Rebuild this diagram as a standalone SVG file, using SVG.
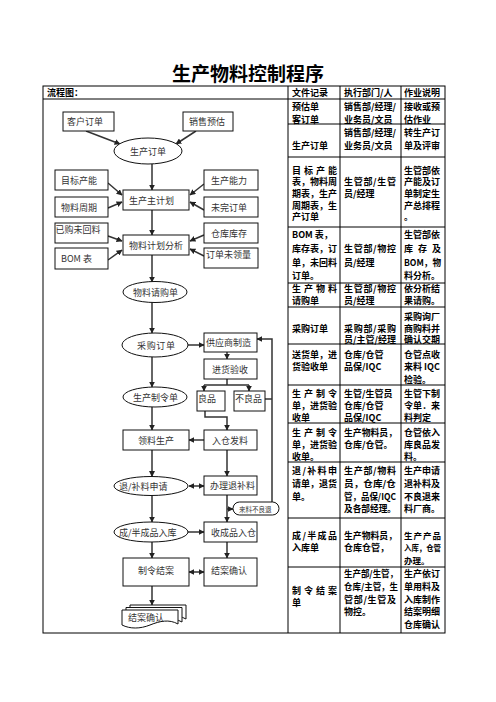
<svg xmlns="http://www.w3.org/2000/svg" width="496" height="702" viewBox="0 0 496 702">
<defs>
<style>
.bx{fill:#fff;stroke:#111;stroke-width:1}
.t{font-family:"Noto Sans CJK SC","Liberation Sans",sans-serif;font-size:9px;fill:#333}
.s{font-family:"Noto Sans CJK SC","Liberation Sans",sans-serif;font-size:6.5px;fill:#333}
.tb{font-family:"Noto Sans CJK SC","Liberation Sans",sans-serif;font-size:9px;font-weight:bold;fill:#000}
.ti{font-family:"Noto Sans CJK SC","Liberation Sans",sans-serif;font-size:19px;font-weight:bold;fill:#000}
.ln{stroke:#000;stroke-width:1;fill:none}
.c{stroke:#333;stroke-width:1.5;fill:none}
.a{marker-end:url(#ar)}
.d{marker-start:url(#ar);marker-end:url(#ar)}
</style>
<marker id="ar" viewBox="0 0 10 10" refX="9" refY="5" markerUnits="userSpaceOnUse" markerWidth="6" markerHeight="6" orient="auto-start-reverse"><path d="M0,0 L10,5 L0,10 z" fill="#222"/></marker>
</defs>
<rect width="496" height="702" fill="#fff"/>
<text class="ti" x="248" y="81" text-anchor="middle">生产物料控制程序</text>

<g id="table">
<rect class="ln" x="43" y="86" width="402" height="547" stroke-width="1.2"/>
<line class="ln" x1="43" y1="99" x2="445" y2="99"/>
<line class="ln" x1="288" y1="86" x2="288" y2="633"/>
<line class="ln" x1="340" y1="86" x2="340" y2="633"/>
<line class="ln" x1="401" y1="86" x2="401" y2="633"/>
<path class="ln" d="M288,124H445M288,157H445M288,227H445M288,283H445M288,307H445M288,344H445M288,385H445M288,423H445M288,462H445M288,518H445M288,567H445"/>
<text class="tb" x="47" y="96">流程图：</text>
<text class="tb" x="292" y="96">文件记录</text>
<text class="tb" x="344" y="96">执行部门/人</text>
<text class="tb" x="404" y="96">作业说明</text>
</g>

<g id="table-text" class="tb">
<text x="292" y="109.5">预估单</text><text x="292" y="122.5">客订单</text>
<text x="344" y="109.5">销售部/经理/</text><text x="344" y="122.5">业务员/文员</text>
<text x="404" y="109.5">接收或预</text><text x="404" y="122.5">估作业</text>

<text x="292" y="149">生产订单</text>
<text x="344" y="136">销售部/经理/</text><text x="344" y="149">业务员/文员</text>
<text x="404" y="136">转生产订</text><text x="404" y="149">单及评审</text>

<text x="292" y="173.5" textLength="45" lengthAdjust="spacing">目标产能</text>
<text x="292" y="185" textLength="45" lengthAdjust="spacingAndGlyphs">表，物料周</text>
<text x="292" y="197" textLength="45" lengthAdjust="spacingAndGlyphs">期表，生产</text>
<text x="292" y="208.5" textLength="45" lengthAdjust="spacingAndGlyphs">周期表，生</text>
<text x="292" y="220">产订单</text>
<text x="344" y="185" textLength="52" lengthAdjust="spacing">生管部/生管</text>
<text x="344" y="197">员/经理</text>
<text x="404" y="173.5">生管部依</text><text x="404" y="185">产能及订</text><text x="404" y="197">单制定生</text><text x="404" y="208.5">产总排程</text><text x="404" y="220">。</text>

<text x="292" y="238">BOM 表，</text>
<text x="292" y="251.5" textLength="45" lengthAdjust="spacingAndGlyphs">库存表，订</text>
<text x="292" y="266" textLength="45" lengthAdjust="spacingAndGlyphs">单，未回料</text>
<text x="292" y="279">订单。</text>
<text x="344" y="251.5" textLength="52" lengthAdjust="spacing">生管部/物控</text>
<text x="344" y="266">员/经理</text>
<text x="404" y="238">生管部依</text>
<text x="404" y="251.5" textLength="37" lengthAdjust="spacing">库存及</text>
<text x="404" y="266" textLength="37" lengthAdjust="spacingAndGlyphs">BOM，物</text>
<text x="404" y="279">料分析。</text>

<text x="292" y="291.5" textLength="45" lengthAdjust="spacing">生产物料</text>
<text x="292" y="303.5">请购单</text>
<text x="344" y="291.5" textLength="52" lengthAdjust="spacing">生管部/物控</text>
<text x="344" y="303.5">员/经理</text>
<text x="404" y="291.5">依分析结</text><text x="404" y="303.5">果请购。</text>

<text x="292" y="331.5">采购订单</text>
<text x="344" y="331.5" textLength="52" lengthAdjust="spacing">采购部/采购</text>
<text x="344" y="343">员/主管/经理</text>
<text x="404" y="319.5">采购询厂</text><text x="404" y="331.5">商购料并</text><text x="404" y="343">确认交期</text>

<text x="292" y="357.5" textLength="45" lengthAdjust="spacingAndGlyphs">送货单，进</text>
<text x="292" y="370">货验收单</text>
<text x="344" y="357.5">仓库/仓管</text><text x="344" y="370">品保/IQC</text>
<text x="404" y="357.5">仓管点收</text><text x="404" y="370">来料 IQC</text><text x="404" y="383">检验。</text>

<text x="292" y="396.5" textLength="45" lengthAdjust="spacing">生产制令</text>
<text x="292" y="409" textLength="45" lengthAdjust="spacingAndGlyphs">单，进货验</text>
<text x="292" y="421">收单</text>
<text x="344" y="396.5">生管/生管员</text><text x="344" y="409">仓库/仓管</text><text x="344" y="421">品保/IQC</text>
<text x="404" y="396.5">生管下制</text><text x="404" y="409">令单．来</text><text x="404" y="421">料判定</text>

<text x="292" y="435.5" textLength="45" lengthAdjust="spacing">生产制令</text>
<text x="292" y="448" textLength="45" lengthAdjust="spacingAndGlyphs">单，进货验</text>
<text x="292" y="460">收单。</text>
<text x="344" y="435.5" textLength="53" lengthAdjust="spacingAndGlyphs">生产物料员，</text>
<text x="344" y="448">仓库/仓管。</text>
<text x="404" y="435.5">仓管依入</text><text x="404" y="448">库良品发</text><text x="404" y="460">料。</text>

<text x="292" y="474" textLength="45" lengthAdjust="spacing">退/补料申</text>
<text x="292" y="486.5" textLength="45" lengthAdjust="spacingAndGlyphs">请单，退货</text>
<text x="292" y="499.5">单。</text>
<text x="344" y="474" textLength="52" lengthAdjust="spacing">生产部/物料</text>
<text x="344" y="486.5" textLength="52" lengthAdjust="spacingAndGlyphs">员，仓库/仓</text>
<text x="344" y="499.5" textLength="52" lengthAdjust="spacingAndGlyphs">管，品保/IQC</text>
<text x="344" y="512" textLength="52" lengthAdjust="spacingAndGlyphs">及各部经理。</text>
<text x="404" y="474">生产申请</text><text x="404" y="486.5">退补料及</text><text x="404" y="499.5">不良退来</text><text x="404" y="512">料厂商。</text>

<text x="292" y="538.5" textLength="45" lengthAdjust="spacing">成/半成品</text>
<text x="292" y="551">入库单</text>
<text x="344" y="538.5" textLength="53" lengthAdjust="spacingAndGlyphs">生产物料员，</text>
<text x="344" y="551">仓库仓管，</text>
<text x="404" y="538.5" font-size="8.5" textLength="37" lengthAdjust="spacing">生产产品</text>
<text x="404" y="551" font-size="8" textLength="37" lengthAdjust="spacingAndGlyphs">入库，仓管</text>
<text x="404" y="564" font-size="8.5">办理。</text>

<text x="292" y="593.5" textLength="45" lengthAdjust="spacing">制令结案</text>
<text x="292" y="605.5">单</text>
<text x="344" y="577" textLength="54" lengthAdjust="spacingAndGlyphs">生产部/生管，</text>
<text x="344" y="590" textLength="54" lengthAdjust="spacingAndGlyphs">仓库/主管，生</text>
<text x="344" y="602.5" textLength="52" lengthAdjust="spacing">管部/生管及</text>
<text x="344" y="615">物控。</text>
<text x="404" y="577">生产依订</text><text x="404" y="590">单用料及</text><text x="404" y="602.5">入库制作</text><text x="404" y="615">结案明细</text><text x="404" y="628">仓库确认</text>
</g>

<g id="connectors">
<line class="c a" x1="86" y1="131" x2="120" y2="144"/>
<line class="c a" x1="196" y1="131" x2="176" y2="144"/>
<line class="c a" x1="108" y1="183" x2="122" y2="195"/>
<line class="c a" x1="108" y1="208" x2="122" y2="202"/>
<line class="c a" x1="204" y1="184" x2="190" y2="195"/>
<line class="c a" x1="204" y1="210" x2="190" y2="202"/>
<line class="c a" x1="108" y1="236" x2="122" y2="241"/>
<line class="c a" x1="108" y1="260" x2="122" y2="250"/>
<line class="c a" x1="204" y1="235" x2="190" y2="241"/>
<line class="c a" x1="204" y1="256" x2="190" y2="249"/>
<line class="c a" x1="152" y1="164" x2="152" y2="190"/>
<line class="c a" x1="152" y1="210" x2="152" y2="235"/>
<line class="c a" x1="152" y1="255" x2="152" y2="282"/>
<line class="c a" x1="152" y1="302" x2="152" y2="333"/>
<line class="c a" x1="152" y1="357" x2="152" y2="387"/>
<line class="c a" x1="152" y1="407" x2="152" y2="430"/>
<line class="c a" x1="152" y1="450" x2="152" y2="476.5"/>
<line class="c a" x1="152" y1="495.5" x2="152" y2="522"/>
<line class="c a" x1="152" y1="542" x2="152" y2="558"/>
<line class="c a" x1="152" y1="586" x2="152" y2="605"/>
<line class="c a" x1="188" y1="345" x2="204" y2="345"/>
<line class="c a" x1="227" y1="352" x2="227" y2="359"/>
<path class="c" d="M227,379V385M204,385H249"/>
<line class="c a" x1="204" y1="385" x2="204" y2="391"/>
<line class="c a" x1="249" y1="385" x2="249" y2="391"/>
<path class="c" d="M265,399H272"/>
<path class="c a" d="M272,502V339H257"/>
<path class="c a" d="M205,411V417H227V430"/>
<line class="c a" x1="204" y1="440" x2="189" y2="440"/>
<line class="c a" x1="227" y1="450" x2="227" y2="476"/>
<line class="c d" x1="189" y1="486" x2="204" y2="486"/>
<line class="c a" x1="227" y1="495" x2="227" y2="522"/>
<line class="c a" x1="227" y1="509" x2="233" y2="509"/>
<line class="c a" x1="188" y1="532" x2="204" y2="532"/>
<line class="c a" x1="227" y1="542" x2="227" y2="558"/>
<line class="c d" x1="189" y1="572" x2="204" y2="572"/>
</g>

<g id="n-kehu"><rect class="bx" x="63" y="112" width="51" height="19"/><text class="t" x="67" y="125">客户订单</text></g>
<g id="n-xiaoshou"><rect class="bx" x="183" y="112" width="50" height="19"/><text class="t" x="189" y="125">销售预估</text></g>
<g id="n-scdd"><ellipse class="bx" cx="148" cy="151" rx="34" ry="13"/><text class="t" x="130" y="154.5">生产订单</text></g>
<g id="n-mbcn"><rect class="bx" x="55" y="170" width="53" height="20"/><text class="t" x="61" y="183.5">目标产能</text></g>
<g id="n-wlzq"><rect class="bx" x="55" y="197" width="53" height="20"/><text class="t" x="61" y="210.5">物料周期</text></g>
<g id="n-sczjh"><rect class="bx" x="123" y="190" width="66" height="20"/><text class="t" x="129" y="203.5">生产主计划</text></g>
<g id="n-scnl"><rect class="bx" x="204" y="170" width="54" height="20"/><text class="t" x="211" y="183.5">生产能力</text></g>
<g id="n-wwdd"><rect class="bx" x="204" y="197" width="54" height="20"/><text class="t" x="211" y="210.5">未完订单</text></g>
<g id="n-ygwhl"><rect class="bx" x="55" y="223" width="53" height="20"/><text class="t" x="55.5" y="233">已购未回料</text></g>
<g id="n-bom"><rect class="bx" x="55" y="248" width="53" height="21"/><text class="t" x="61" y="261.5">BOM 表</text></g>
<g id="n-wljhfx"><rect class="bx" x="123" y="235" width="66" height="20"/><text class="t" x="129" y="248.5">物料计划分析</text></g>
<g id="n-ckkc"><rect class="bx" x="204" y="223" width="54" height="20"/><text class="t" x="211" y="236.5">仓库库存</text></g>
<g id="n-ddwll"><rect class="bx" x="204" y="248" width="54" height="20"/><text class="t" x="206" y="258">订单未领量</text></g>
<g id="n-wlqgd"><ellipse class="bx" cx="155" cy="292" rx="32" ry="10.5"/><text class="t" x="133" y="295.5">物料请购单</text></g>
<g id="n-cgdd"><ellipse class="bx" cx="155" cy="345" rx="33" ry="12"/><text class="t" x="137" y="348.5" textLength="38" lengthAdjust="spacing">采购订单</text></g>
<g id="n-gyszz"><rect class="bx" x="204" y="333" width="53" height="19"/><text class="t" x="206" y="346">供应商制造</text></g>
<g id="n-jhys"><rect class="bx" x="204" y="359" width="53" height="20"/><text class="t" x="212" y="372.5">进货验收</text></g>
<g id="n-lp"><rect class="bx" x="197" y="391" width="28" height="20"/><text class="t" x="198" y="402">良品</text></g>
<g id="n-blp"><rect class="bx" x="234" y="391" width="31" height="20"/><text class="t" x="235" y="402">不良品</text></g>
<g id="n-sczld"><ellipse class="bx" cx="155" cy="397" rx="32" ry="10"/><text class="t" x="133" y="400.5">生产制令单</text></g>
<g id="n-llsc"><rect class="bx" x="123" y="430" width="66" height="20"/><text class="t" x="138" y="443.5">领料生产</text></g>
<g id="n-rcfl"><rect class="bx" x="204" y="430" width="53" height="20"/><text class="t" x="212" y="443.5">入仓发料</text></g>
<g id="n-tblsq"><ellipse class="bx" cx="151" cy="486" rx="37" ry="9.5"/><text class="t" x="119" y="489.5">退/补料申请</text></g>
<g id="n-bltbl"><rect class="bx" x="204" y="476" width="53" height="19"/><text class="t" x="210" y="489">办理退补料</text></g>
<g id="n-llblt"><rect class="bx" x="233" y="502" width="46" height="13" rx="6.5"/><text class="s" x="239" y="511.5">来料不良退</text></g>
<g id="n-cbcprk"><ellipse class="bx" cx="151" cy="532" rx="37" ry="10"/><text class="t" x="119" y="535.5">成/半成品入库</text></g>
<g id="n-sccrc"><rect class="bx" x="204" y="522" width="53" height="20"/><text class="t" x="211" y="535.5">收成品入仓</text></g>
<g id="n-zlja"><rect class="bx" x="123" y="558" width="66" height="28"/><text class="t" x="138" y="574">制令结案</text></g>
<g id="n-jaqr"><rect class="bx" x="204" y="558" width="53" height="28"/><text class="t" x="211" y="574">结案确认</text></g>
<g id="n-jaqr-doc">
<path class="bx" d="M130,605H186V619C177,614 168,616 158,620C148,624 138,624 130,620Z"/>
<path class="bx" d="M126,607.5H182V622C173,617 164,619 154,623C144,627 134,627 126,623Z"/>
<path class="bx" d="M122,610H178V624C169,619 160,621 150,625C140,629 130,629 122,625Z"/>
<text class="t" x="128" y="621">结案确认</text>
</g>
</svg>
